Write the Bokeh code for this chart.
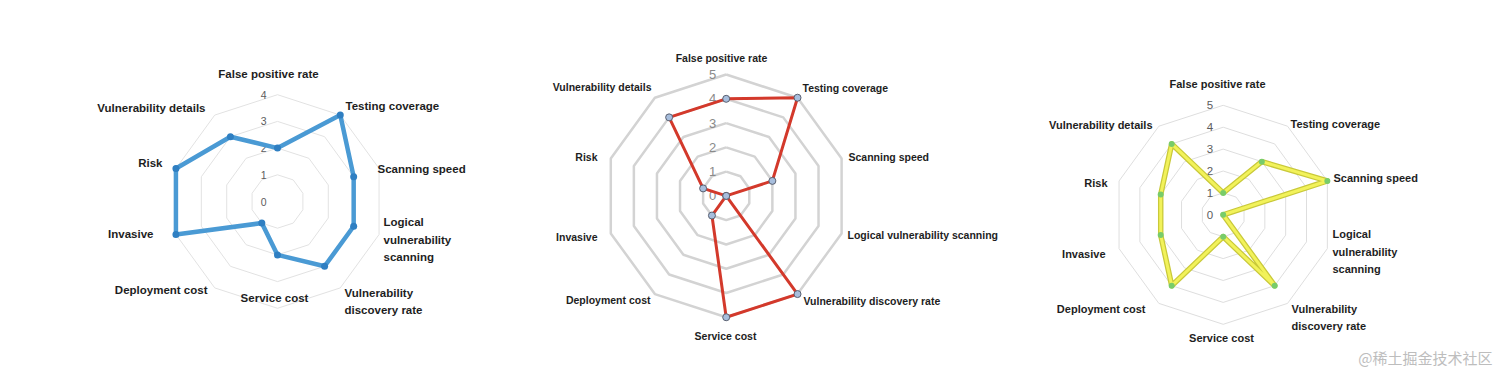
import numpy as np
from bokeh.plotting import figure
from bokeh.models import Range1d
from bokeh.embed import file_html
from bokeh.resources import INLINE
from bokeh.core.properties import value

# ---------------- data ----------------
categories = ["False positive rate", "Testing coverage", "Scanning speed",
              "Logical vulnerability scanning", "Vulnerability discovery rate",
              "Service cost", "Deployment cost", "Invasive", "Risk",
              "Vulnerability details"]
scores_1 = [2, 4, 3, 3, 3, 2, 1, 4, 4, 3]
scores_2 = [4, 5, 2, 0, 5, 5, 1, 0, 1, 4]
scores_3 = [1, 3, 5, 0, 4, 1, 4, 3, 3, 4]
ticks_1 = [0, 1, 2, 3, 4]
ticks_2 = [0, 1, 2, 3, 4, 5]
ticks_3 = [0, 1, 2, 3, 4, 5]
watermark = "@稀土掘金技术社区"

# ---------------- layout / style ----------------
wrap_multi = {"Logical vulnerability scanning": "Logical\nvulnerability\nscanning",
              "Vulnerability discovery rate": "Vulnerability\ndiscovery rate"}

charts = [
    dict(scores=scores_1, ticks=ticks_1, cx=277, cy=201, unit=26.7, wrap=True,
         label_pos=[(268, 73, "center"), (345, 105, "left"), (377, 168, "left"),
                    (383, 239, "left"), (344, 301, "left"), (274, 297, "center"),
                    (207, 289, "right"), (153, 233, "right"), (162, 162, "right"),
                    (205, 107, "right")],
         label_size="11.5px", tick_size="10.5px", tick_color="#5c5c5c", tick_dx=-11,
         ring_color="#e2e2e2", ring_width=1,
         line_color="#4a9ad4", line_width=4.5, edge_color=None,
         mk_fill="#2f7fc2", mk_line=None, mk_size=7),
    dict(scores=scores_2, ticks=ticks_2, cx=725.7, cy=195.4, unit=24.27, wrap=False,
         label_pos=[(721, 57, "center"), (802, 87, "left"), (848, 156, "left"),
                    (847, 234, "left"), (803, 300, "left"), (725, 335, "center"),
                    (650, 299, "right"), (597, 236, "right"), (597, 156, "right"),
                    (651, 86, "right")],
         label_size="10.5px", tick_size="13px", tick_color="#8a8a8a", tick_dx=-10,
         ring_color="#d3d3d3", ring_width=2.5,
         line_color="#d3392b", line_width=3, edge_color=None,
         mk_fill="#a7bedd", mk_line="#5a6070", mk_size=7),
    dict(scores=scores_3, ticks=ticks_3, cx=1222.7, cy=214.3, unit=21.9, wrap=True,
         label_pos=[(1217, 83, "center"), (1290, 123, "left"), (1333, 177, "left"),
                    (1332, 251, "left"), (1291, 317, "left"), (1221, 337, "center"),
                    (1145, 308, "right"), (1105, 253, "right"), (1107, 182, "right"),
                    (1152, 124, "right")],
         label_size="11px", tick_size="11.5px", tick_color="#5c5c5c", tick_dx=-10,
         ring_color="#dedede", ring_width=1,
         line_color="#f2f25a", line_width=3, edge_color="#c9c93a",
         mk_fill="#78cc6a", mk_line=None, mk_size=6),
]

LINE_H = 17.5
FONT = value("Liberation Sans")

p = figure(width=1496, height=369, x_range=Range1d(0, 1496), y_range=Range1d(369, 0),
           output_backend="svg", toolbar_location=None, min_border=0)
p.axis.visible = False
p.grid.visible = False
p.outline_line_color = None
p.background_fill_color = "white"
p.border_fill_color = "white"

n = len(categories)
theta = np.arange(n) * 2 * np.pi / n

for c in charts:
    cx, cy, u = c["cx"], c["cy"], c["unit"]
    # rings
    for k in c["ticks"]:
        if k == 0:
            continue
        xs = list(cx + k * u * np.sin(theta))
        ys = list(cy - k * u * np.cos(theta))
        p.line(xs + [xs[0]], ys + [ys[0]], line_color=c["ring_color"],
               line_width=c["ring_width"])
    # tick labels
    tv = c["ticks"]
    p.text(x=[cx + c["tick_dx"]] * len(tv), y=[cy - k * u for k in tv],
           text=[str(k) for k in tv], text_align="right", text_baseline="middle",
           text_font=FONT, text_font_size=c["tick_size"], text_color=c["tick_color"])
    # data polygon
    v = np.array(c["scores"], dtype=float)
    px = list(cx + v * u * np.sin(theta))
    py = list(cy - v * u * np.cos(theta))
    lx, ly = px + [px[0]], py + [py[0]]
    if c["edge_color"]:
        p.line(lx, ly, line_color=c["edge_color"], line_width=c["line_width"] + 2.5,
               line_join="round")
    p.line(lx, ly, line_color=c["line_color"], line_width=c["line_width"],
           line_join="round")
    p.scatter(px, py, size=c["mk_size"], fill_color=c["mk_fill"],
              line_color=c["mk_line"], line_width=1)
    # category labels
    tx, ty, tt, ta = [], [], [], []
    for name, (x0, y0, al) in zip(categories, c["label_pos"]):
        txt = wrap_multi.get(name, name) if c["wrap"] else name
        lines = txt.split("\n")
        m = len(lines)
        for i, ln in enumerate(lines):
            tx.append(x0)
            ty.append(y0 + (i - (m - 1) / 2) * LINE_H)
            tt.append(ln)
            ta.append(al)
    p.text(x=tx, y=ty, text=tt, text_align=ta, text_baseline="middle",
           text_font=FONT, text_font_style="bold", text_font_size=c["label_size"],
           text_color="#1e1e1e")

# watermark
p.text(x=[1492], y=[357], text=[watermark], text_align="right", text_baseline="middle",
       text_font=value("Noto Sans CJK SC"), text_font_size="15px", text_color="#bdbdbd")

open("out.html", "w").write(file_html(p, INLINE))
